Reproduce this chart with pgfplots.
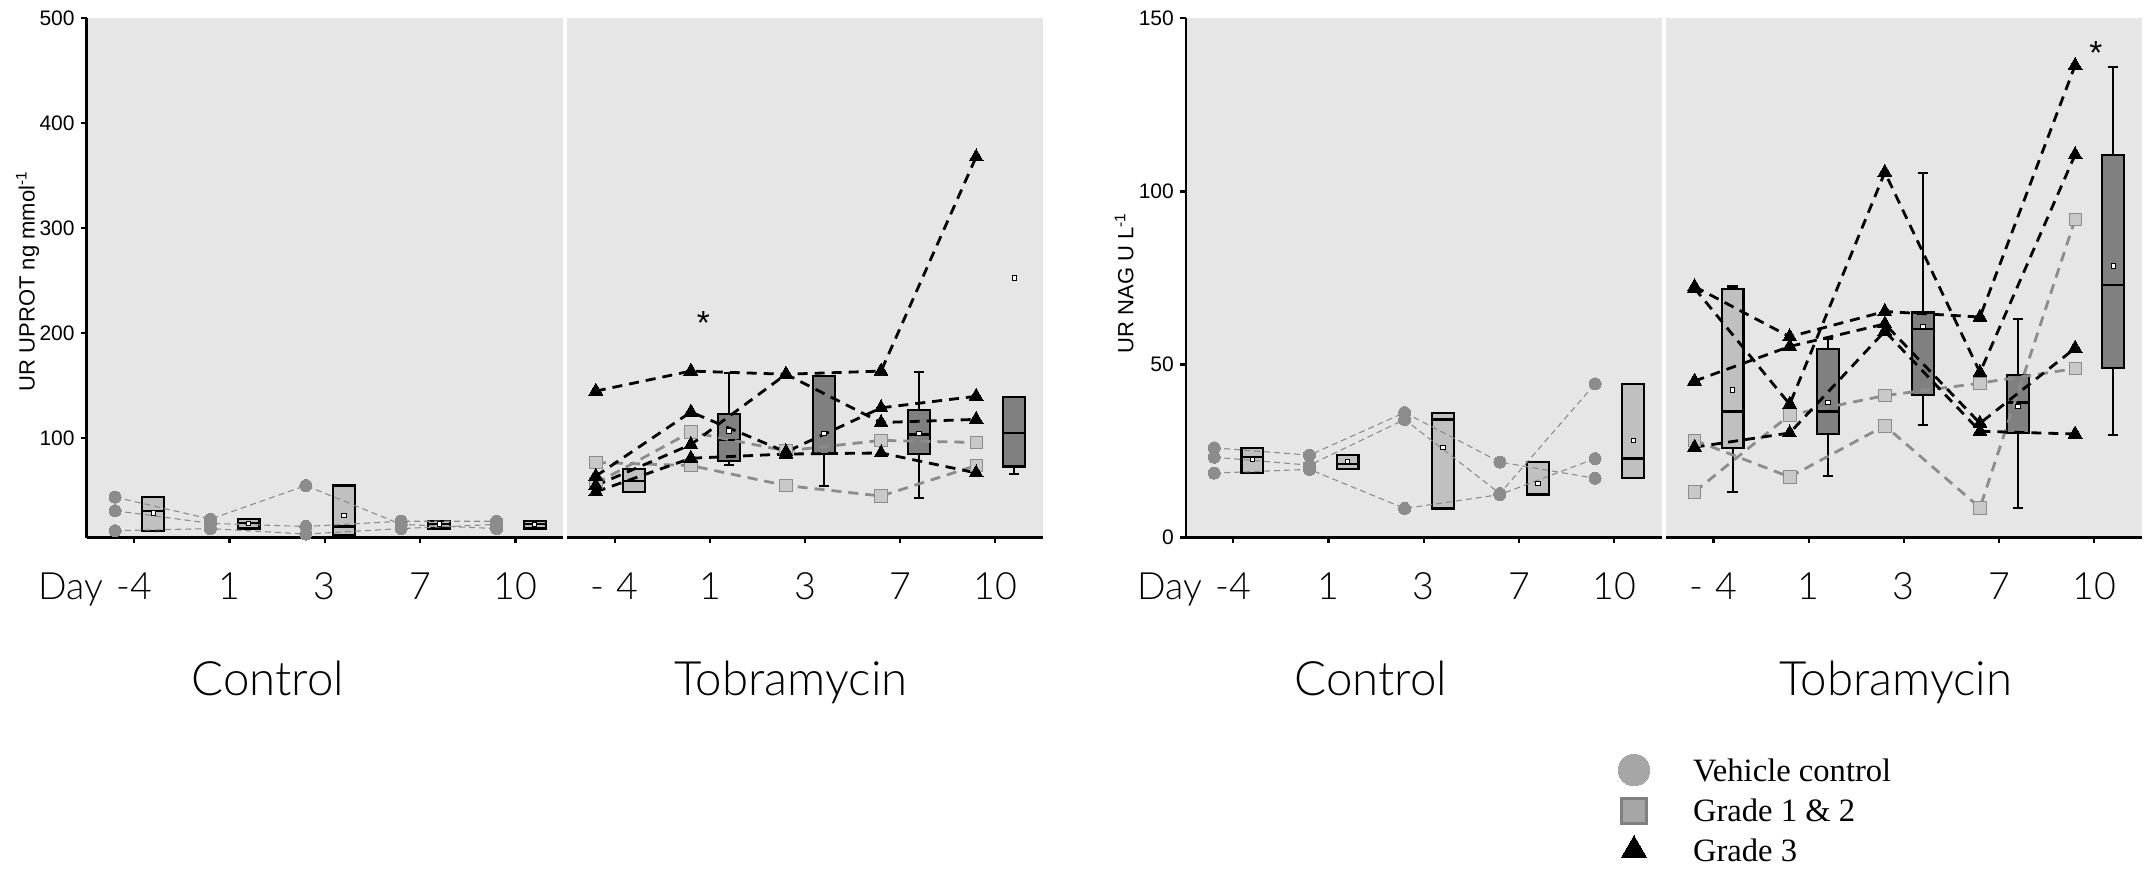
\documentclass[border=0pt]{standalone}
\usepackage{fontspec}
\usepackage{pgfplots}
\pgfplotsset{compat=1.18}
\usepgfplotslibrary{statistics}
\setmainfont{Liberation Sans}
\newfontfamily\lato{Lato Light}
\newfontfamily\arial{Liberation Sans}
\newfontfamily\tnr{Liberation Serif}

\definecolor{bg}{RGB}{230,230,230}
\definecolor{ptgray}{RGB}{140,140,140}
\definecolor{boxlight}{RGB}{192,192,192}
\definecolor{boxdark}{RGB}{128,128,128}
\definecolor{sqfill}{RGB}{200,200,200}
\definecolor{sqedge}{RGB}{140,140,140}
\definecolor{legfill}{RGB}{166,166,166}
\definecolor{legedge}{RGB}{128,128,128}

\pgfplotsset{
  panel/.style={
    scale only axis, height=259.6pt, xmin=-0.5, xmax=4.5,
    axis background/.style={fill=bg},
    axis line style={line width=1.15pt, black},
    axis x line*=bottom,
    xtick={0,1,2,3,4},
    tick align=outside, major tick length=2.8pt,
    tick style={black, line width=1.15pt},
    xticklabel style={font=\lato\fontsize{18.8pt}{20pt}\selectfont, anchor=base, inner sep=0pt, yshift=-27.95pt},
    yticklabel style={font=\arial\fontsize{10.5pt}{12pt}\selectfont, anchor=east, inner sep=0pt, xshift=-2.95pt},
    /pgf/number format/assume math mode=true,
    clip=false,
  },
  ctrlpanel/.style={panel, axis y line*=left},
  tobpanel/.style={panel, axis y line=none, ytick=\empty},
  boxL/.style={solid, draw=black, line width=1.1pt, fill=boxlight,
    boxplot/draw direction=y, boxplot/box extend=0.23, boxplot/whisker extend=0.11},
  boxD/.style={boxL, fill=boxdark},
  meanmk/.style={only marks, mark=square*, mark size=1.1pt,
    mark options={solid, fill=white, draw=black, line width=0.45pt}},
  ctrlline/.style={color=ptgray, line width=0.55pt, dash pattern=on 3pt off 2pt,
    mark=*, mark size=3pt, mark options={solid, fill=ptgray, draw=ptgray, line width=0pt}},
  sqline/.style={color=sqedge, line width=1.4pt, dash pattern=on 5pt off 3.5pt,
    mark=square*, mark size=3.1pt, mark options={solid, fill=sqfill, draw=sqedge, line width=0.4pt}},
  triline/.style={color=black, line width=1.4pt, dash pattern=on 5pt off 3.5pt,
    mark=triangle*, mark size=4pt, mark options={solid, fill=black, draw=black, line width=0pt}},
}

\begin{document}
\begin{tikzpicture}
\useasboundingbox (0,0) rectangle (1073pt,-434pt);

%================ LEFT: UPROT, Control
\begin{axis}[ctrlpanel, at={(43.25pt,-268.75pt)}, anchor=south west, width=238.4pt,
  ymin=5.5, ymax=500, ytick={100,200,300,400,500},
  xticklabels={{\llap{Day\hspace{6.5pt}}-4\hspace{7pt}},1,3,7,10}]
\addplot[boxL, boxplot prepared={draw position=0.2, lower whisker=12, lower quartile=12, median=31, upper quartile=44, upper whisker=44}] coordinates {};
\addplot[boxL, boxplot prepared={draw position=1.2, lower whisker=14, lower quartile=14, median=19, upper quartile=23, upper whisker=23}] coordinates {};
\addplot[boxL, boxplot prepared={draw position=2.2, lower whisker=8, lower quartile=8, median=16, upper quartile=55, upper whisker=55}] coordinates {};
\addplot[boxL, boxplot prepared={draw position=3.2, lower whisker=14, lower quartile=14, median=18, upper quartile=21, upper whisker=21}] coordinates {};
\addplot[boxL, boxplot prepared={draw position=4.2, lower whisker=14, lower quartile=14, median=18, upper quartile=21, upper whisker=21}] coordinates {};
\addplot[meanmk] coordinates {(0.2,29) (1.2,19) (2.2,26.5) (3.2,18.5) (4.2,18)};
\addplot[ctrlline] coordinates {(-0.2,44) (0.8,23) (1.8,55) (2.8,18) (3.8,14)};
\addplot[ctrlline] coordinates {(-0.2,31) (0.8,19) (1.8,16) (2.8,21) (3.8,21)};
\addplot[ctrlline] coordinates {(-0.2,12) (0.8,14) (1.8,8.8) (2.8,14) (3.8,18)};
\end{axis}

%================ LEFT: UPROT, Tobramycin
\begin{axis}[tobpanel, at={(283.65pt,-268.75pt)}, anchor=south west, width=237.7pt,
  ymin=5.5, ymax=500,
  xticklabels={-\hspace{6pt}4,1,3,7,10}]
\addplot[boxL, boxplot prepared={draw position=0.2, lower whisker=49.2, lower quartile=49.2, median=59.7, upper quartile=70.5, upper whisker=70.5}] coordinates {};
\addplot[boxD, boxplot prepared={draw position=1.2, lower whisker=74.6, lower quartile=78, median=98.6, upper quartile=123, upper whisker=162}] coordinates {};
\addplot[boxD, boxplot prepared={draw position=2.2, lower whisker=54.6, lower quartile=84.7, median=84.7, upper quartile=159.3, upper whisker=159.3}] coordinates {};
\addplot[boxD, boxplot prepared={draw position=3.2, lower whisker=43.4, lower quartile=84.7, median=103.7, upper quartile=127.1, upper whisker=163}] coordinates {};
\addplot[boxD, boxplot prepared={draw position=4.2, lower whisker=66.1, lower quartile=73.2, median=105.4, upper quartile=139, upper whisker=139}] coordinates {};
\addplot[meanmk] coordinates {(1.2,106.8) (2.2,104.4) (3.2,104.4) (4.2,252.6)};
\addplot[sqline] coordinates {(-0.2,57) (0.8,106) (1.8,88) (2.8,98) (3.8,96)};
\addplot[sqline] coordinates {(-0.2,77) (0.8,74) (1.8,55) (2.8,45) (3.8,74)};
\addplot[triline] coordinates {(-0.2,145) (0.8,164) (1.8,161) (2.8,164) (3.8,368)};
\addplot[triline] coordinates {(-0.2,55) (0.8,94) (1.8,161) (2.8,115) (3.8,118)};
\addplot[triline] coordinates {(-0.2,64) (0.8,125) (1.8,87) (2.8,129) (3.8,140)};
\addplot[triline] coordinates {(-0.2,49) (0.8,81) (1.8,85) (2.8,86) (3.8,67)};
\node[font=\arial\fontsize{16.7pt}{18pt}\selectfont, inner sep=0pt, yshift=-3.7pt] at (axis cs:0.932,217.3) {*};
\end{axis}

%================ RIGHT: NAG, Control
\begin{axis}[ctrlpanel, at={(592.85pt,-268.75pt)}, anchor=south west, width=238pt,
  ymin=0, ymax=150, ytick={0,50,100,150},
  xticklabels={{\llap{Day\hspace{6.5pt}}-4\hspace{7pt}},1,3,7,10}]
\addplot[boxL, boxplot prepared={draw position=0.2, lower whisker=18.6, lower quartile=18.6, median=23.2, upper quartile=25.9, upper whisker=25.9}] coordinates {};
\addplot[boxL, boxplot prepared={draw position=1.2, lower whisker=19.9, lower quartile=19.9, median=21.2, upper quartile=23.8, upper whisker=23.8}] coordinates {};
\addplot[boxL, boxplot prepared={draw position=2.2, lower whisker=8.4, lower quartile=8.4, median=34.1, upper quartile=35.9, upper whisker=35.9}] coordinates {};
\addplot[boxL, boxplot prepared={draw position=3.2, lower whisker=12.4, lower quartile=12.4, median=12.6, upper quartile=21.8, upper whisker=21.8}] coordinates {};
\addplot[boxL, boxplot prepared={draw position=4.2, lower whisker=17.1, lower quartile=17.1, median=22.8, upper quartile=44.4, upper whisker=44.4}] coordinates {};
\addplot[meanmk] coordinates {(0.2,22.5) (1.2,22) (2.2,26.1) (3.2,15.6) (4.2,28.1)};
\addplot[ctrlline] coordinates {(-0.2,25.9) (0.8,23.8) (1.8,36.1) (2.8,21.8) (3.8,17.1)};
\addplot[ctrlline] coordinates {(-0.2,23.2) (0.8,20.9) (1.8,34.1) (2.8,12.7) (3.8,44.4)};
\addplot[ctrlline] coordinates {(-0.2,18.6) (0.8,19.7) (1.8,8.4) (2.8,12.4) (3.8,22.8)};
\end{axis}

%================ RIGHT: NAG, Tobramycin
\begin{axis}[tobpanel, at={(833pt,-268.75pt)}, anchor=south west, width=237.85pt,
  ymin=0, ymax=150,
  xticklabels={-\hspace{6pt}4,1,3,7,10}]
\addplot[boxL, boxplot prepared={draw position=0.2, lower whisker=13.2, lower quartile=25.8, median=36.4, upper quartile=71.7, upper whisker=72.5}] coordinates {};
\addplot[boxD, boxplot prepared={draw position=1.2, lower whisker=17.8, lower quartile=29.9, median=36.4, upper quartile=54.4, upper whisker=57.5}] coordinates {};
\addplot[boxD, boxplot prepared={draw position=2.2, lower whisker=32.5, lower quartile=41.2, median=60.3, upper quartile=65, upper whisker=105.2}] coordinates {};
\addplot[boxD, boxplot prepared={draw position=3.2, lower whisker=8.6, lower quartile=30.2, median=39, upper quartile=47, upper whisker=63.2}] coordinates {};
\addplot[boxD, boxplot prepared={draw position=4.2, lower whisker=29.7, lower quartile=49, median=73, upper quartile=110.4, upper whisker=135.9}] coordinates {};
\addplot[meanmk] coordinates {(0.2,42.6) (1.2,39) (2.2,60.9) (3.2,37.9) (4.2,78.5)};
\addplot[sqline] coordinates {(-0.2,28.1) (0.8,17.5) (1.8,32.3) (2.8,8.6) (3.8,91.9)};
\addplot[sqline] coordinates {(-0.2,13.2) (0.8,35.4) (1.8,41) (2.8,44.6) (3.8,48.8)};
\addplot[triline] coordinates {(-0.2,72.5) (0.8,58) (1.8,65.3) (2.8,63.7) (3.8,136.4)};
\addplot[triline] coordinates {(-0.2,72) (0.8,38.5) (1.8,105.5) (2.8,47.7) (3.8,110.6)};
\addplot[triline] coordinates {(-0.2,45.2) (0.8,55.2) (1.8,61.7) (2.8,33) (3.8,54.7)};
\addplot[triline] coordinates {(-0.2,26.1) (0.8,30.2) (1.8,59.6) (2.8,30.7) (3.8,29.9)};
\node[font=\arial\fontsize{16.7pt}{18pt}\selectfont, inner sep=0pt, yshift=-3.7pt] at (axis cs:4.018,142.1) {*};
\end{axis}

%================ Legend (hidden axis)
\begin{axis}[at={(833pt,-268.75pt)}, anchor=south west, scale only axis,
  width=237.85pt, height=259.6pt, hide axis, xmin=0, xmax=1, ymin=0, ymax=1,
  legend cell align=left,
  legend image code/.code={\draw[#1] plot coordinates {(0pt,0pt)};},
  legend style={at={(axis description cs:-0.1005,-0.4174)}, anchor=north west,
    draw=none, fill=none, inner sep=0pt, outer sep=0pt,
    row sep=6.2pt, column sep=21.6pt,
    font=\tnr\fontsize{16.3pt}{17pt}\selectfont,
    nodes={inner sep=0pt, text height=11pt, text depth=0pt}}]
\addlegendimage{only marks, mark=*, mark size=7.9pt, mark options={fill=legfill, draw=legfill, line width=0pt}}
\addlegendentry{Vehicle control}
\addlegendimage{only marks, mark=square*, mark size=6.25pt, mark options={fill=legfill, draw=legedge, line width=1.5pt}}
\addlegendentry{Grade 1 \& 2}
\addlegendimage{only marks, mark=triangle*, mark size=7.2pt, mark options={fill=black, draw=black, line width=0pt}}
\addlegendentry{Grade 3}
\end{axis}

%================ Text
\node[font=\arial\fontsize{11pt}{12pt}\selectfont, rotate=90, anchor=base] at (17.25pt,-140.5pt) {UR UPROT ng mmol\textsuperscript{-1}};
\node[font=\arial\fontsize{11pt}{12pt}\selectfont, rotate=90, anchor=base] at (566.65pt,-141.5pt) {UR NAG U L\textsuperscript{-1}};
\node[font=\lato\fontsize{23.7pt}{25pt}\selectfont, anchor=base] at (134pt,-347.5pt) {Control};
\node[font=\lato\fontsize{23.7pt}{25pt}\selectfont, anchor=base] at (395.5pt,-347.5pt) {Tobramycin};
\node[font=\lato\fontsize{23.7pt}{25pt}\selectfont, anchor=base] at (685.5pt,-347.5pt) {Control};
\node[font=\lato\fontsize{23.7pt}{25pt}\selectfont, anchor=base] at (947.8pt,-347.5pt) {Tobramycin};
\end{tikzpicture}
\end{document}
